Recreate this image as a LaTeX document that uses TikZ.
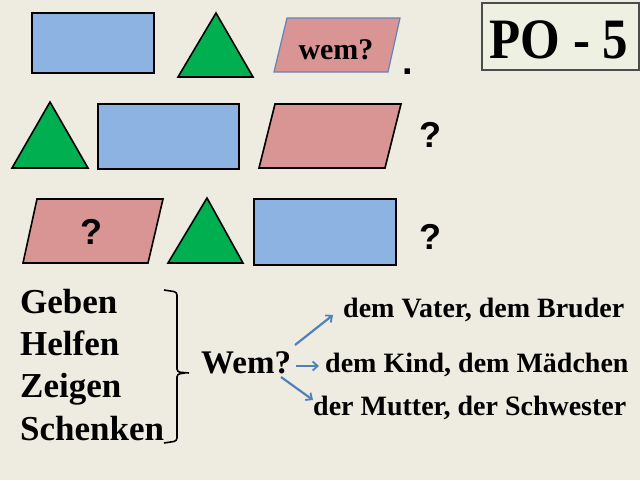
\documentclass[tikz,border=0pt]{standalone}
\usepackage{fontspec}
\setmainfont{Liberation Serif}
\newfontfamily\qfont{Liberation Sans}
\usetikzlibrary{arrows.meta}
\definecolor{bg}{RGB}{238,236,225}
\definecolor{boxbg}{RGB}{238,240,226}
\definecolor{rblue}{RGB}{141,179,226}
\definecolor{rgreen}{RGB}{0,176,80}
\definecolor{rpink}{RGB}{217,149,148}
\definecolor{pbord}{RGB}{100,130,180}
\definecolor{arblue}{RGB}{79,129,189}
\tikzset{
  rectshape/.style={draw=black,fill=rblue,line width=1.6pt},
  trishape/.style={draw=black,fill=rgreen,line width=1.6pt,line join=miter},
  parshape/.style={draw=black,fill=rpink,line width=1.6pt},
  qmark/.style={inner sep=0pt,font=\qfont\bfseries\fontsize{36}{36}\selectfont},
  word/.style={inner sep=0pt,anchor=base west,font=\bfseries\fontsize{35}{35}\selectfont},
  answer/.style={inner sep=0pt,anchor=base west,font=\bfseries\fontsize{28}{28}\selectfont},
  arr/.style={draw=arblue,line width=2.2pt,-{Straight Barb[length=5pt,width=9pt,line width=1.8pt]}}
}
\begin{document}
\begin{tikzpicture}[x=1pt,y=-1pt]
\fill[bg] (0,0) rectangle (640,480);
\useasboundingbox (0,0) rectangle (640,480);
% row 1
\draw[rectshape] (32,13) rectangle (154,73);
\draw[trishape] (216,13) -- (253,77) -- (178,77) -- cycle;
\draw[draw=pbord,fill=rpink,line width=1.2pt] (287,18) -- (400,18) -- (388,72) -- (274,72) -- cycle;
\node[inner sep=0pt,anchor=base,font=\bfseries\fontsize{30}{30}\selectfont] (wemq) at (336,59) {wem?};
\node[inner sep=0pt,anchor=base,font=\qfont\bfseries\fontsize{38}{38}\selectfont] (dot) at (408,74) {.};
\node[draw=black!70,fill=boxbg,line width=1.2pt,minimum width=157pt,minimum height=67pt,inner sep=0pt] (pobox) at (560.5,36.5) {};
\node[inner sep=0pt,anchor=base,yscale=1.12,font=\bfseries\fontsize{51}{51}\selectfont] (po) at (559,58) {PO - 5};
% row 2
\draw[trishape] (50,102) -- (88,168) -- (12,168) -- cycle;
\draw[rectshape] (98,104) rectangle (239,169);
\draw[parshape] (275,104) -- (401,104) -- (385,168) -- (259,168) -- cycle;
\node[qmark] (q1) at (430,135) {?};
% row 3
\draw[parshape] (37,199) -- (163,199) -- (148,263) -- (23,263) -- cycle;
\node[qmark] (q2) at (91,232) {?};
\draw[trishape] (207,198) -- (243,263) -- (168,263) -- cycle;
\draw[rectshape] (254,199) rectangle (396,265);
\node[qmark] (q3) at (430,237) {?};
% verbs
\node[word] (geben) at (20,313) {Geben};
\node[word] (helfen) at (20,355) {Helfen};
\node[word] (zeigen) at (20,397) {Zeigen};
\node[word] (schenken) at (20,440) {Schenken};
% bracket
\draw[line width=1.6pt,rounded corners=3pt] (164,290) -- (177,292) -- (177,372) -- (189,373);
\draw[line width=1.6pt,rounded corners=3pt] (185,373) -- (177,374) -- (177,441) -- (164,443);
% Wem?
\node[inner sep=0pt,anchor=base west,font=\bfseries\fontsize{33}{33}\selectfont] (wem) at (201,373) {Wem?};
% answers
\node[answer] (vater) at (343,317) {dem Vater, dem Bruder};
\node[answer] (kind) at (325,372) {dem Kind, dem Mädchen};
\node[answer] (mutter) at (313,415) {der Mutter, der Schwester};
\coordinate (a1s) at (295,345);
\coordinate (a1e) at (333,315);
\coordinate (a2s) at (296,366);
\coordinate (a2e) at (319,366);
\coordinate (a3s) at (281,377);
\coordinate (a3e) at (313,400);
\draw[arr] (a1s) -- (a1e);
\draw[arr] (a2s) -- (a2e);
\draw[arr] (a3s) -- (a3e);
\end{tikzpicture}
\end{document}
